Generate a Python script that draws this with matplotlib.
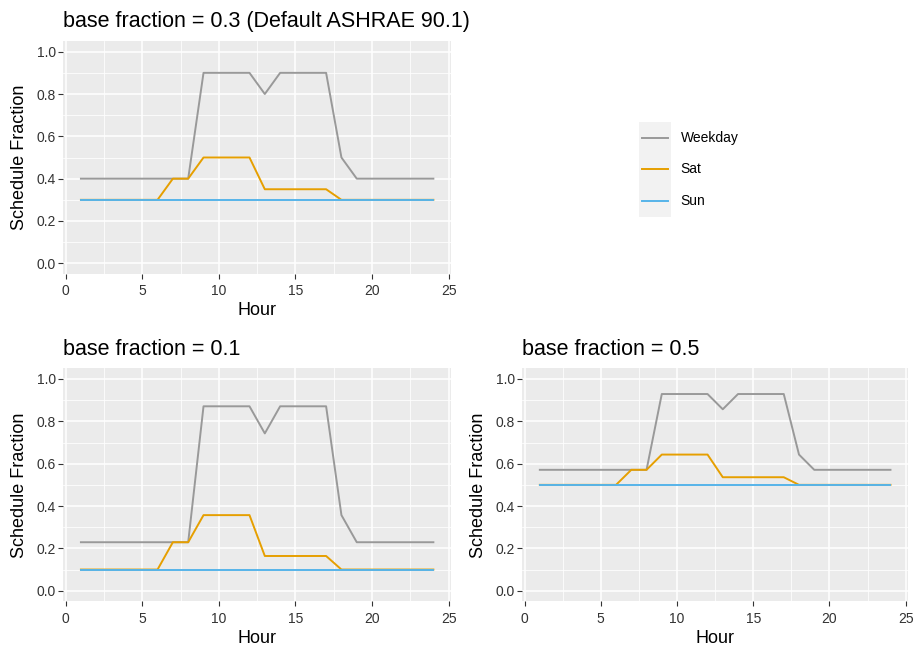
import matplotlib
matplotlib.use("Agg")
import matplotlib.pyplot as plt
from matplotlib.ticker import MultipleLocator

plt.rcParams['font.family'] = ['Liberation Sans', 'DejaVu Sans']

hours = list(range(1, 25))
day_types = ["Weekday", "Sat", "Sun"]
day_colors = ["#999999", "#E69F00", "#56B4E9"]

# base fraction = 0.3 (ASHRAE 90.1 default)
wk_03 = [0.4] * 8 + [0.9] * 4 + [0.8] + [0.9] * 4 + [0.5] + [0.4] * 6
sat_03 = [0.3] * 6 + [0.4] * 2 + [0.5] * 4 + [0.35] * 5 + [0.3] * 7
sun_03 = [0.3] * 24

# base fraction = 0.1
wk_01 = [0.229] * 8 + [0.871] * 4 + [0.743] + [0.871] * 4 + [0.357] + [0.229] * 6
sat_01 = [0.1] * 6 + [0.229] * 2 + [0.357] * 4 + [0.164] * 5 + [0.1] * 7
sun_01 = [0.1] * 24

# base fraction = 0.5
wk_05 = [0.571] * 8 + [0.929] * 4 + [0.857] + [0.929] * 4 + [0.643] + [0.571] * 6
sat_05 = [0.5] * 6 + [0.571] * 2 + [0.643] * 4 + [0.536] * 5 + [0.5] * 7
sun_05 = [0.5] * 24

panel_titles = ["base fraction = 0.3 (Default ASHRAE 90.1)",
                "base fraction = 0.1",
                "base fraction = 0.5"]
panel_series = [(wk_03, sat_03, sun_03),
                (wk_01, sat_01, sun_01),
                (wk_05, sat_05, sun_05)]

W, H = 914, 647
fig = plt.figure(figsize=(W / 100, H / 100), dpi=100)
fig.patch.set_facecolor("white")


def px_axes(x0, y0, x1, y1):
    return fig.add_axes([x0 / W, 1 - y1 / H, (x1 - x0) / W, (y1 - y0) / H])


rects = [(63.3, 41.1, 451.0, 273.9),
         (63.3, 368.4, 451.0, 601.3),
         (522.3, 368.4, 908.0, 601.3)]

for rect, title, series in zip(rects, panel_titles, panel_series):
    ax = px_axes(*rect)
    ax.set_facecolor("#EBEBEB")
    for s in ax.spines.values():
        s.set_visible(False)
    ax.set_xlim(-0.15, 25.15)
    ax.set_ylim(-0.05, 1.05)
    ax.xaxis.set_major_locator(MultipleLocator(5))
    ax.xaxis.set_minor_locator(MultipleLocator(2.5))
    ax.yaxis.set_minor_locator(MultipleLocator(0.1))
    ax.set_yticks([0, 0.2, 0.4, 0.6, 0.8, 1.0])
    ax.set_yticklabels(["0.0", "0.2", "0.4", "0.6", "0.8", "1.0"])
    ax.grid(which="major", color="white", linewidth=1.1)
    ax.grid(which="minor", color="white", linewidth=0.55)
    ax.set_axisbelow(True)
    ax.tick_params(which="major", length=3.5, width=0.8, color="#333333",
                   labelsize=10, labelcolor="#333333")
    ax.tick_params(axis="x", which="major", pad=4)
    ax.tick_params(axis="y", which="major", pad=2)
    ax.tick_params(which="minor", length=0)
    for vals, name, col in zip(series, day_types, day_colors):
        ax.plot(hours, vals, color=col, linewidth=1.4, label=name)
    ax.set_title(title, loc="left", fontsize=15.5, pad=10, color="black")
    ax.set_xlabel("Hour", fontsize=13, labelpad=3)
    ax.set_ylabel("Schedule Fraction", fontsize=13, labelpad=6)

# legend key column
lax = px_axes(639, 121.7, 671, 216.7)
lax.set_facecolor("#F2F2F2")
for s in lax.spines.values():
    s.set_visible(False)
lax.set_xticks([])
lax.set_yticks([])
lax.set_xlim(0, 1)
lax.set_ylim(2.5, -0.5)
for i, (name, col) in enumerate(zip(day_types, day_colors)):
    lax.plot([0.1, 0.9], [i, i], color=col, linewidth=1.4)
    lax.text(1.3, i, name, transform=lax.transData, fontsize=10,
             va="center", ha="left", clip_on=False)

fig.savefig("out.png", dpi=100)
